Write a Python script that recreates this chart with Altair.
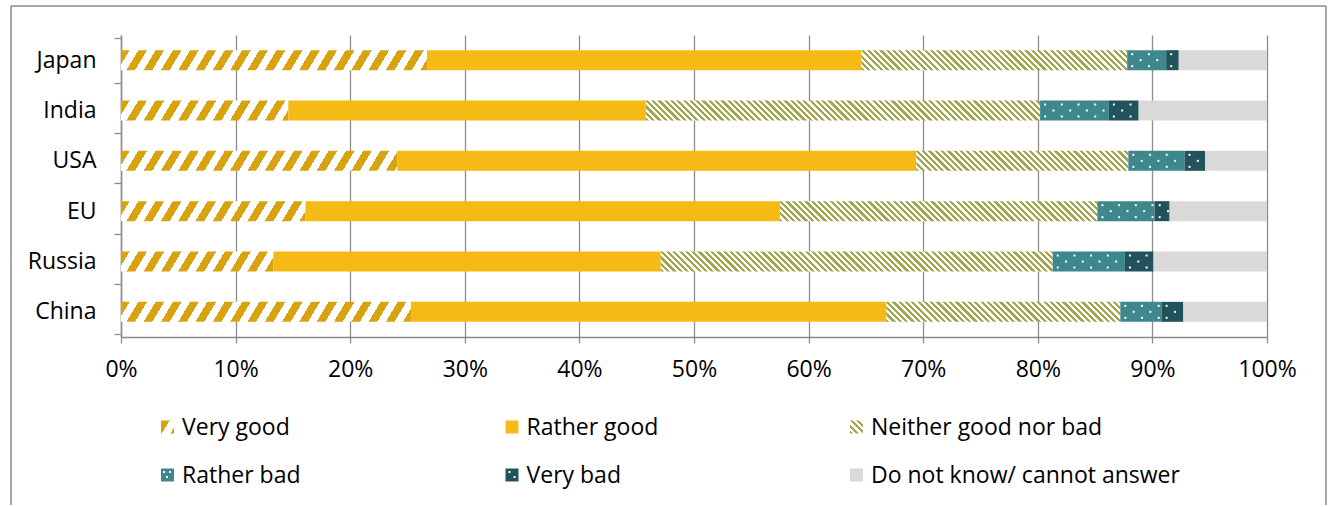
import altair as alt
import pandas as pd

# Survey answers by country, percent of respondents
countries = ["Japan", "India", "USA", "EU", "Russia", "China"]
categories = ["Very good", "Rather good", "Neither good nor bad",
              "Rather bad", "Very bad", "Do not know/ cannot answer"]
very_good = [26.7, 14.6, 24.1, 16.1, 13.3, 25.3]
rather_good = [37.9, 31.2, 45.3, 41.4, 33.8, 41.5]
neither = [23.2, 34.4, 18.5, 27.7, 34.2, 20.4]
rather_bad = [3.4, 6.0, 4.9, 5.0, 6.3, 3.6]
very_bad = [1.1, 2.6, 1.8, 1.3, 2.5, 1.9]
dont_know = [7.7, 11.2, 5.4, 8.5, 9.9, 7.3]
x_ticks = [0, 10, 20, 30, 40, 50, 60, 70, 80, 90, 100]

series = [very_good, rather_good, neither, rather_bad, very_bad, dont_know]

# Plot geometry (pixels)
PLOT_W = 1146
PLOT_H = 302
BAR_H = 20
FONT = "Open Sans"
FONT_SIZE = 23

GOLD = "#D9A20F"
YELLOW = "#F6BA16"
OLIVE = "#A2A64C"
TEAL = "#3E878C"
DARK_TEAL = "#23535A"
GREY = "#D9D9D9"


def stripes(w, h, period, frac, c_on, c_off, k=1.0, rising=True):
    """Linear gradient with hard stops that paints diagonal hatching.

    Lines of equal colour follow x + k*y = const (rising) inside a w x h box.
    """
    w = max(w, 1.0)
    total = w + k * h
    c = total / (w * w + (k * h) ** 2)
    if rising:
        x1, y1, x2, y2 = 0, 0, c * w, c * k * h
    else:
        x1, y1, x2, y2 = 0, 1, c * w, 1 - c * k * h
    p = period / total
    stops = []
    i = 0
    while i * p < 1:
        a = i * p
        b = min(a + frac * p, 1.0)
        e = min(a + p, 1.0)
        stops += [
            {"offset": round(a, 5), "color": c_on},
            {"offset": round(b, 5), "color": c_on},
            {"offset": round(b, 5), "color": c_off},
            {"offset": round(e, 5), "color": c_off},
        ]
        i += 1
    return {"gradient": "linear", "x1": x1, "y1": y1, "x2": x2, "y2": y2,
            "stops": stops}


def fill_for(cat, w, h):
    if cat == "Very good":
        return stripes(w, h, 17.3, 0.5, GOLD, "#FFFFFF", k=0.6, rising=True)
    if cat == "Neither good nor bad":
        return stripes(w, h, 6.3, 0.5, OLIVE, "#FFFFFF", k=1.0, rising=False)
    return {"Rather good": YELLOW, "Rather bad": TEAL,
            "Very bad": DARK_TEAL}.get(cat, GREY)


# Segment table: cumulative start / end of every answer on each bar
records = []
for ci, country in enumerate(countries):
    acc = 0.0
    for cat, vals in zip(categories, series):
        v = vals[ci]
        w_px = v / 100 * PLOT_W
        records.append({
            "country": country, "category": cat, "value": v,
            "start": acc, "end": acc + v,
            "grad": fill_for(cat, w_px, BAR_H),
        })
        acc += v

# White dots sprinkled over the "bad" answers, three staggered rows
# (row offset in pixels from the bar centre -> horizontal phase)
DOT_P = 16.7 / PLOT_W * 100
dot_rows = {-6: 0.3, 0: 0.8, 6: 0.3}
dots = []
for r in records:
    if r["category"] not in ("Rather bad", "Very bad"):
        continue
    for dy, phase in dot_rows.items():
        x = r["start"] + phase * DOT_P
        while x < r["end"] - 0.1:
            dots.append({"country": r["country"], "x": x, "row": dy})
            x += DOT_P

# band geometry of the country scale (default band paddings)
STEP = PLOT_H / (len(countries) - 0.1 + 2 * 0.05)
BANDWIDTH = STEP * 0.9

x_scale = alt.Scale(domain=[0, 100], nice=False, zero=True)
y_enc = alt.Y(
    "country:N", sort=countries, title=None,
    axis=alt.Axis(
        tickBand="extent", tickSize=7, tickColor="#8c8c8c", tickWidth=1.3,
        domainColor="#8c8c8c", domainWidth=1.5, labelFont=FONT,
        labelFontSize=FONT_SIZE, labelColor="#000000", labelPadding=18,
        grid=False,
    ),
)

bars = alt.Chart(alt.Data(values=records)).mark_bar(size=BAR_H).encode(
    x=alt.X(
        "start:Q", scale=x_scale, title=None,
        axis=alt.Axis(
            values=x_ticks, labelExpr="datum.value + '%'", grid=True,
            gridColor="#8c8c8c", gridWidth=1.3, tickSize=6,
            tickColor="#8c8c8c", tickWidth=1.3, domainColor="#8c8c8c",
            domainWidth=1.5, labelFont=FONT, labelFontSize=FONT_SIZE,
            labelColor="#000000", labelPadding=15, labelFlush=False,
        ),
    ),
    x2="end:Q",
    y=y_enc,
    fill=alt.Fill("grad:N", scale=None),
)

dot_layers = []
for dy in dot_rows:
    sub = [d for d in dots if d["row"] == dy]
    dot_layers.append(
        alt.Chart(alt.Data(values=sub)).mark_square(
            size=4, color="#FFFFFF", opacity=1
        ).encode(
            x=alt.X("x:Q", scale=x_scale),
            y=alt.Y("country:N", sort=countries,
                    bandPosition=0.5 + dy / BANDWIDTH),
        )
    )

# Outer frame around the figure
one = pd.DataFrame({"k": [0]})
FL, FR, FT, FB = -110, 1205, -29, 470
frame_style = dict(color="#8a8a8a", strokeWidth=1.5)
frame = [
    alt.Chart(one).mark_rule(**frame_style).encode(
        x=alt.value(FL), y=alt.value(FT), y2=alt.value(FB)),
    alt.Chart(one).mark_rule(**frame_style).encode(
        x=alt.value(FR), y=alt.value(FT), y2=alt.value(FB)),
    alt.Chart(one).mark_rule(**frame_style).encode(
        x=alt.value(FL), x2=alt.value(FR), y=alt.value(FT)),
]

# Legend: three columns, two rows below the axis
SYM = 13
legend = []
for i, cat in enumerate(categories):
    col, row = i % 3, i // 3
    px = 40 + col * 344.5
    py = 392 + row * 48
    legend.append(
        alt.Chart(one).mark_rect().encode(
            x=alt.value(px), x2=alt.value(px + SYM),
            y=alt.value(py - SYM / 2), y2=alt.value(py + SYM / 2),
            fill=alt.value(fill_for(cat, SYM, SYM)),
        )
    )
    if cat in ("Rather bad", "Very bad"):
        spots = [(3, -3), (9, -3), (6, 2)] if cat == "Rather bad" else [(4, -3), (9, 2)]
        for sx, sy in spots:
            legend.append(
                alt.Chart(one).mark_square(size=4, color="#FFFFFF", opacity=1).encode(
                    x=alt.value(px + sx), y=alt.value(py + sy))
            )
    legend.append(
        alt.Chart(one).mark_text(
            align="left", baseline="middle", font=FONT, fontSize=FONT_SIZE,
            color="#000000",
        ).encode(x=alt.value(px + 21), y=alt.value(py + 1), text=alt.value(cat))
    )

chart = alt.layer(bars, *dot_layers, *frame, *legend).properties(
    width=PLOT_W, height=PLOT_H,
    padding={"left": 10, "top": 5, "right": 0, "bottom": 0},
    background="#FFFFFF",
).configure_view(strokeWidth=0)

chart.save("out.html", embed_options={"renderer": "svg", "actions": False})
